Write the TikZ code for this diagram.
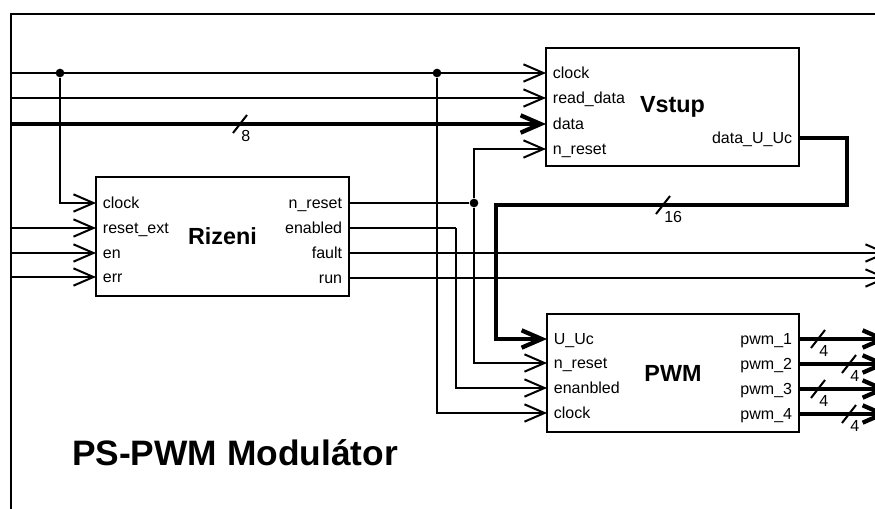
\documentclass[tikz,border=0pt]{standalone}
\usepackage{fontspec}
\setmainfont{Liberation Sans}
\usetikzlibrary{arrows.meta,positioning}
\tikzset{
  block/.style={
    rectangle, draw, line width=1.5pt,
    minimum width=189.5pt, minimum height=88.75pt,
    inner sep=0pt, font=\fontsize{17.5}{20}\selectfont\bfseries
  },
  inport/.style={anchor=west, inner xsep=5pt, inner ysep=0pt,
    text height=8.6pt, text depth=0pt, font=\fontsize{12}{14}\selectfont},
  outport/.style={inport, anchor=east},
  wire/.style={line width=1.5pt},
  sig/.style={wire, -{Straight Barb[length=15pt,width=13pt]}},
  bus/.style={line width=3.2pt, -{Straight Barb[length=15pt,width=13pt]}},
  busmark/.style={line width=1.5pt},
  buslabel/.style={anchor=north west, inner sep=0pt, font=\fontsize{12}{14}\selectfont},
  junction/.style={circle, fill, inner sep=0pt, minimum size=6.5pt}
}

\begin{document}
\begin{tikzpicture}[x=0.75pt, y=-0.75pt]
  \useasboundingbox (0,0) rectangle (875,508);
  % frame
  \draw[wire] (890,14) -- (11,14) -- (11,520);

  % blocks
  \node[block] (rizeni) at (222.5,236.5) {Rizeni};
  \node[block] (vstup) at (672.5,107) {Vstup};
  \node[block] (pwm) at (673,373) {PWM};

  % ports of Rizeni
  \node[inport] (rclk) at (96,203) {clock};
  \node[inport] (rrstext) at (96,228) {reset\_ext};
  \node[inport] (ren) at (96,253) {en};
  \node[inport] (rerr) at (96,277) {err};
  \node[outport] (rnres) at (349,203) {n\_reset};
  \node[outport] (renbl) at (349,228) {enabled};
  \node[outport] (rfault) at (349,253) {fault};
  \node[outport] (rrun) at (349,278) {run};

  % ports of Vstup
  \node[inport] (vclk) at (546,73) {clock};
  \node[inport] (vrd) at (546,98) {read\_data};
  \node[inport] (vdata) at (546,124) {data};
  \node[inport] (vnres) at (546,149) {n\_reset};
  \node[outport] (vout) at (799,138) {data\_U\_Uc};

  % ports of PWM
  \node[inport] (puuc) at (547,339) {U\_Uc};
  \node[inport] (pnres) at (547,363) {n\_reset};
  \node[inport] (penbl) at (547,388) {enanbled};
  \node[inport] (pclk) at (547,413) {clock};
  \node[outport] (ppwm1) at (799,339) {pwm\_1};
  \node[outport] (ppwm2) at (799,364) {pwm\_2};
  \node[outport] (ppwm3) at (799,389) {pwm\_3};
  \node[outport] (ppwm4) at (799,414) {pwm\_4};

  % inputs at the frame, outputs past the edge
  \coordinate (inclk) at (11,73);
  \coordinate (inrd) at (11,98);
  \coordinate (indata) at (11,124);
  \coordinate (inrst) at (11,228);
  \coordinate (inen) at (11,253);
  \coordinate (inerr) at (11,277);
  \coordinate (outfault) at (888,253);
  \coordinate (outrun) at (888,278);
  \coordinate (outa) at (888,339);
  \coordinate (outb) at (888,364);
  \coordinate (outc) at (888,389);
  \coordinate (outd) at (888,414);

  % bends and junctions
  \node[junction] (jclka) at (60,73) {};
  \node[junction] (jclkb) at (437,73) {};
  \node[junction] (jnres) at (474,203) {};
  \coordinate (enbend) at (456,228);
  \coordinate (bustop) at (847,205);
  \coordinate (busdown) at (496,205);

  % clock
  \draw[sig] (inclk) -- (vclk.west);
  \draw[sig] (jclka) |- (rclk.west);
  \draw[sig] (jclkb) |- (pclk.west);
  % Vstup inputs
  \draw[sig] (inrd) -- (vrd.west);
  \draw[bus] (indata) -- (vdata.west);
  % Rizeni inputs
  \draw[sig] (inrst) -- (rrstext.west);
  \draw[sig] (inen) -- (ren.west);
  \draw[sig] (inerr) -- (rerr.west);
  % Rizeni outputs
  \draw[wire] (rnres.east) -- (jnres);
  \draw[sig] (jnres) |- (vnres.west);
  \draw[sig] (jnres) |- (pnres.west);
  \draw[wire] (renbl.east) -- (enbend);
  \draw[sig] (enbend) |- (penbl.west);
  \draw[sig] (rfault.east) -- (outfault);
  \draw[sig] (rrun.east) -- (outrun);
  % data bus to PWM
  \draw[bus] (vout.east) -| (bustop) -- (busdown) |- (puuc.west);
  % PWM outputs
  \draw[bus] (ppwm1.east) -- (outa);
  \draw[bus] (ppwm2.east) -- (outb);
  \draw[bus] (ppwm3.east) -- (outc);
  \draw[bus] (ppwm4.east) -- (outd);

  % bus widths
  \draw[busmark] (240,124) ++(-7,9) -- ++(14,-18);
  \path (240,124) ++(1,6) node[buslabel] (wdata) {8};
  \draw[busmark] (663,205) ++(-7,9) -- ++(14,-18);
  \path (663,205) ++(1,6) node[buslabel] (wuuc) {16};
  \draw[busmark] (818,339) ++(-7,9) -- ++(14,-18);
  \path (818,339) ++(1,6) node[buslabel] (wpa) {4};
  \draw[busmark] (849,364) ++(-7,9) -- ++(14,-18);
  \path (849,364) ++(1,6) node[buslabel] (wpb) {4};
  \draw[busmark] (818,389) ++(-7,9) -- ++(14,-18);
  \path (818,389) ++(1,6) node[buslabel] (wpc) {4};
  \draw[busmark] (849,414) ++(-7,9) -- ++(14,-18);
  \path (849,414) ++(1,6) node[buslabel] (wpd) {4};

  % title
  \node[anchor=base, font=\fontsize{26.5}{30}\selectfont\bfseries] (title) at (235,465) {PS-PWM Modulátor};
\end{tikzpicture}
\end{document}
